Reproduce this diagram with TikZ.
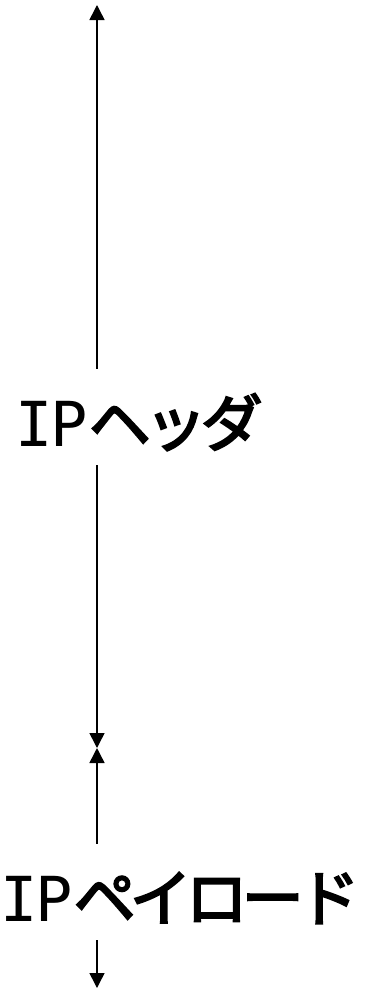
\documentclass[tikz,border=0pt]{standalone}
\usepackage{fontspec}
\newfontfamily\jp[FakeBold=3.2]{Noto Sans CJK JP}
\newfontfamily\lat{DejaVu Sans Mono}
\usetikzlibrary{arrows.meta}
\newcommand{\Lc}[1]{\makebox[34bp]{\lat #1}}
\newcommand{\Lp}[1]{\makebox[36bp]{\lat #1}\hspace{5bp}}
\newcommand{\Kc}[1]{\makebox[56bp]{\jp #1}}
\tikzset{
  lbl/.style={inner sep=0pt, anchor=base west, text height=77bp, text depth=19bp, font=\fontsize{62bp}{66bp}\selectfont},
  arr/.style={line width=1.5bp, -{Triangle[length=15bp,width=15bp]}}
}
\begin{document}
\begin{tikzpicture}[x=1bp,y=-1bp]
\useasboundingbox (0,0) rectangle (364,989);
\coordinate (top) at (97,5);
\coordinate (mid) at (97,748);
\coordinate (bot) at (97,988);
\node[lbl] (h1) at (16.5,446) {\Lc{I}\Lp{P}\Kc{ヘ}\Kc{ッ}\Kc{ダ}};
\node[lbl] (h2) at (1.5,921) {\Lc{I}\Lp{P}\Kc{ペ}\Kc{イ}\Kc{ロ}\Kc{ー}\Kc{ド}};
\draw[arr] (h1.north -| top) -- (top);
\draw[arr] (h1.south -| top) -- (mid);
\draw[arr] (h2.north -| top) -- (mid);
\draw[arr] (h2.south -| top) -- (bot);
\end{tikzpicture}
\end{document}
